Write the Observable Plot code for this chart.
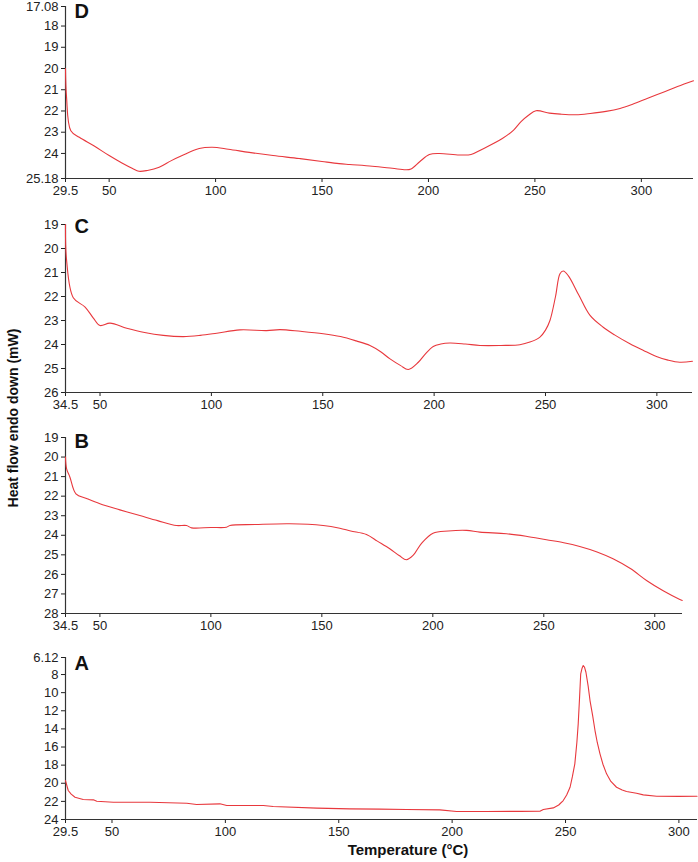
<!DOCTYPE html>
<html><head><meta charset="utf-8">
<script src="https://cdn.jsdelivr.net/npm/d3@7"></script>
<script src="https://cdn.jsdelivr.net/npm/@observablehq/plot@0.6"></script>
<style>
body{margin:0;background:#fff;font-family:"Liberation Sans",Arial,sans-serif;}
#wrap{position:relative;width:698px;height:862px;overflow:hidden;}
.panel{position:absolute;left:0;}
#ytitle{position:absolute;left:13px;top:418px;transform:translate(-50%,-50%) rotate(-90deg);font-weight:bold;font-size:14px;white-space:nowrap;color:#111;}
#xtitle{position:absolute;left:408px;top:849px;transform:translate(-50%,-50%);font-weight:bold;font-size:15px;white-space:nowrap;color:#111;}
</style></head>
<body><div id="wrap"><div id="ytitle">Heat flow endo down (mW)</div><div id="xtitle">Temperature (°C)</div></div>
<script>
// Panel D
const dT = [29.5, 30, 32, 36, 43, 50, 56, 61, 64, 68, 73.5, 79, 84.3, 92.3, 98.4, 106, 115.8, 127, 139.3, 150, 158, 163, 173.6, 183, 189.4, 191.8, 196, 200.4, 205, 214.5, 220, 225.3, 234.7, 240, 243.5, 247, 250.5, 256.8, 262, 269.3, 276, 283.4, 290, 295.9, 303, 310, 317, 324.5];
const dV = [20.0, 21.37, 22.93, 23.24, 23.65, 24.1, 24.45, 24.71, 24.84, 24.8, 24.65, 24.35, 24.1, 23.77, 23.71, 23.8, 23.95, 24.1, 24.24, 24.38, 24.48, 24.52, 24.6, 24.7, 24.77, 24.73, 24.38, 24.05, 24.0, 24.07, 24.05, 23.8, 23.3, 22.9, 22.5, 22.2, 21.99, 22.1, 22.15, 22.18, 22.12, 22.02, 21.88, 21.68, 21.4, 21.13, 20.85, 20.58];
const dXDomain = [29.5, 324.5];
const dYTicks = [17.08, 18, 19, 20, 21, 22, 23, 24, 25.18];
// Panel C
const cT = [34.5, 35, 38, 43.3, 47, 50, 54.5, 62, 70, 78.4, 87.4, 95, 102.4, 112.8, 124.8, 130.8, 140, 150.2, 158, 165, 171.2, 176, 180.2, 185, 188.4, 192.9, 196, 199.6, 203, 207.1, 214, 220.6, 230, 238.5, 243, 247.5, 250, 252, 254.5, 256.5, 258, 260.2, 265, 270, 275.9, 281, 287.9, 294, 299.8, 305, 310.3, 316];
const cV = [19.0, 20.5, 22.05, 22.44, 22.9, 23.21, 23.11, 23.32, 23.5, 23.62, 23.67, 23.62, 23.53, 23.39, 23.42, 23.38, 23.45, 23.55, 23.67, 23.85, 24.04, 24.3, 24.6, 24.88, 25.04, 24.74, 24.4, 24.08, 23.98, 23.94, 23.98, 24.04, 24.04, 24.01, 23.9, 23.69, 23.4, 23.0, 22.0, 21.05, 20.94, 21.13, 21.95, 22.79, 23.28, 23.6, 23.97, 24.25, 24.5, 24.65, 24.74, 24.7];
const cXDomain = [34.5, 316];
const cYTicks = [19, 20, 21, 22, 23, 24, 25, 26];
// Panel B
const bT = [34.5, 35, 36.5, 39.2, 44, 50, 59, 68, 76, 84.5, 89, 91.3, 100, 107, 108.6, 120, 135.6, 150.6, 158.1, 163, 170.1, 175, 180.6, 185, 188.1, 191.1, 195, 200.1, 207, 215.2, 221.2, 233.2, 242, 251.2, 259, 266.2, 274, 281.2, 289, 296.3, 304, 311.3, 312.4];
const bV = [20.0, 20.6, 21.03, 21.88, 22.12, 22.39, 22.7, 22.99, 23.25, 23.5, 23.5, 23.62, 23.6, 23.59, 23.5, 23.45, 23.41, 23.5, 23.64, 23.78, 23.96, 24.3, 24.69, 25.05, 25.25, 25.03, 24.4, 23.89, 23.78, 23.75, 23.84, 23.92, 24.05, 24.23, 24.38, 24.57, 24.85, 25.2, 25.7, 26.31, 26.85, 27.28, 27.33];
const bXDomain = [34.5, 312.5];
const bYTicks = [19, 20, 21, 22, 23, 24, 25, 26, 27, 28];
// Panel A
const aT = [29.5, 30.7, 32, 33.7, 37.3, 41.8, 43.3, 50.6, 66.8, 83, 87.3, 97.6, 100.6, 116.7, 121.1, 140.3, 154.9, 168, 179.9, 194.6, 202, 215, 230, 238.7, 240.2, 244.6, 247, 249, 250.5, 252, 253, 254.1, 255, 255.6, 256.2, 256.7, 257.3, 257.8, 258.4, 259, 260, 260.8, 262, 263, 264, 265.2, 266.5, 268.1, 270, 272.5, 275, 276.9, 281.3, 284.3, 290.2, 300, 308];
const aV = [19.7, 20.8, 21.2, 21.54, 21.8, 21.83, 21.98, 22.09, 22.09, 22.2, 22.35, 22.27, 22.46, 22.46, 22.57, 22.75, 22.83, 22.85, 22.9, 22.94, 23.12, 23.12, 23.1, 23.09, 22.9, 22.72, 22.4, 21.91, 21.3, 20.44, 19.3, 17.86, 15.5, 13.44, 10.5, 7.92, 7.3, 7.0, 7.2, 7.75, 9.3, 10.87, 12.6, 14.18, 15.5, 16.75, 17.9, 18.96, 19.8, 20.44, 20.75, 20.91, 21.1, 21.28, 21.43, 21.45, 21.43];
const aXDomain = [29.5, 308.2];
const aYTicks = [6.12, 8, 10, 12, 14, 16, 18, 20, 22, 24];

const dXTicks = [29.5, 50, 100, 150, 200, 250, 300];
const cXTicks = [34.5, 50, 100, 150, 200, 250, 300];
const bXTicks = [34.5, 50, 100, 150, 200, 250, 300];
const aXTicks = [29.5, 50, 100, 150, 200, 250, 300];

const RED = "#e8383d";
const AX = "#333";

function panel(o) {
  const data = o.T.map((t, i) => ({t, v: o.V[i]}));
  const yDomain = [o.yTicks[0], o.yTicks[o.yTicks.length - 1]];
  const svg = Plot.plot({
    width: 698, height: o.height,
    marginLeft: 65, marginRight: o.marginRight, marginTop: o.marginTop, marginBottom: 20,
    style: {fontFamily: "'Liberation Sans', Arial, sans-serif", fontSize: "13px", color: "#222", background: "transparent", overflow: "visible"},
    x: {domain: o.xDomain, ticks: o.xTicks, tickFormat: d => String(d), tickSize: 4, tickPadding: 3, label: null},
    y: {domain: yDomain, reverse: true, ticks: o.yTicks, tickFormat: d => String(d), tickSize: 4, tickPadding: 3, label: null},
    marks: [
      Plot.ruleY([yDomain[1]], {stroke: AX, strokeWidth: 1.2}),
      Plot.ruleX([o.xDomain[0]], {stroke: AX, strokeWidth: 1.2}),
      Plot.line(data, {x: "t", y: "v", stroke: RED, strokeWidth: 1.1, curve: o.curve}),
      Plot.text([o.label], {frameAnchor: "top-left", dx: 9, dy: o.letterDy, fontWeight: "bold", fontSize: 20, fill: "#111", lineAnchor: "top"})
    ]
  });
  svg.classList.add("panel");
  svg.style.position = "absolute";
  svg.style.top = o.top + "px";
  document.getElementById("wrap").appendChild(svg);
}

panel({label: "D", T: dT, V: dV, xDomain: dXDomain, xTicks: dXTicks, yTicks: dYTicks, top: 0, marginTop: 6, height: 198, marginRight: 5, letterDy: -3, curve: "catmull-rom"});
panel({label: "C", T: cT, V: cV, xDomain: cXDomain, xTicks: cXTicks, yTicks: cYTicks, top: 204, marginTop: 20, height: 208, marginRight: 6, letterDy: -6, curve: "catmull-rom"});
panel({label: "B", T: bT, V: bV, xDomain: bXDomain, xTicks: bXTicks, yTicks: bYTicks, top: 417, marginTop: 20, height: 216, marginRight: 16, letterDy: -4, curve: "catmull-rom"});
panel({label: "A", T: aT, V: aV, xDomain: aXDomain, xTicks: aXTicks, yTicks: aYTicks, top: 637, marginTop: 20, height: 202, marginRight: 1, letterDy: -2, curve: "linear"});
</script>
</body></html>
